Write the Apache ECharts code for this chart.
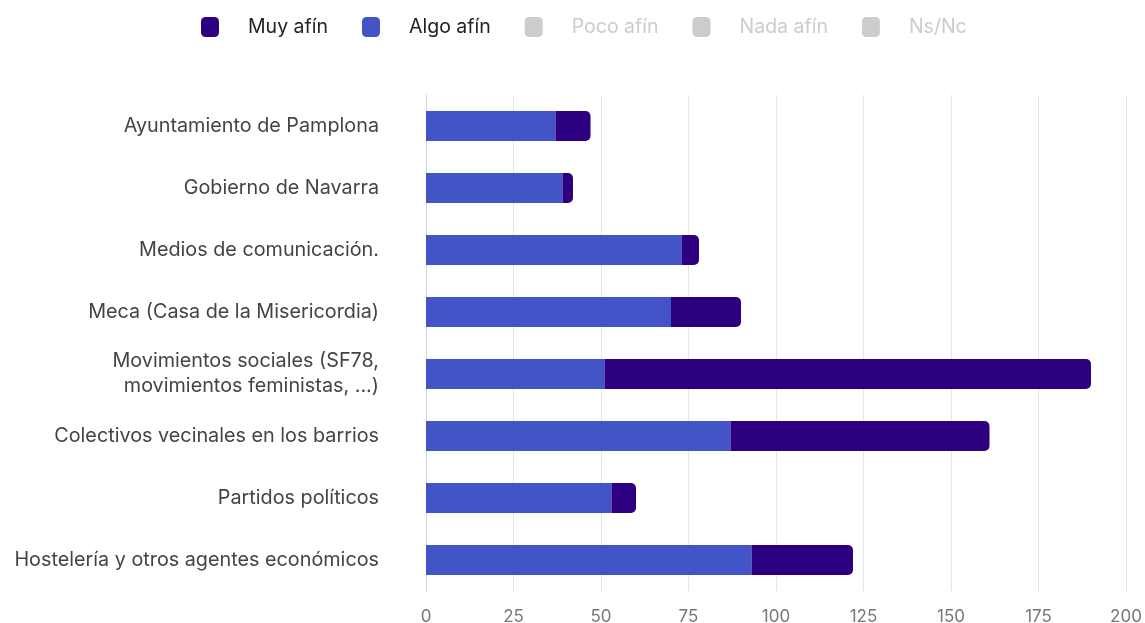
<!DOCTYPE html>
<html><head><meta charset="utf-8">
<script src="https://cdn.jsdelivr.net/npm/echarts@6/dist/echarts.min.js"></script>
<style>html,body{margin:0;padding:0;background:#fff}#c{width:1145px;height:623px}</style>
</head><body><div id="c"></div>
<script>
const categories = [
  "Ayuntamiento de Pamplona",
  "Gobierno de Navarra",
  "Medios de comunicación.",
  "Meca (Casa de la Misericordia)",
  "Movimientos sociales (SF78,\nmovimientos feministas, ...)",
  "Colectivos vecinales en los barrios",
  "Partidos políticos",
  "Hostelería y otros agentes económicos"
];
const algoAfin = [37, 39, 73, 70, 51, 87, 53, 93];
const muyAfin = [10, 3, 5, 20, 139, 74, 7, 29];
const pocoAfin = [20, 25, 40, 30, 8, 12, 50, 30];
const nadaAfin = [10, 15, 20, 12, 3, 4, 30, 10];
const nsNc = [5, 5, 5, 8, 2, 3, 5, 5];
const xTicks = [0, 25, 50, 75, 100, 125, 150, 175, 200];

const FONT = 'Inter';
const chart = echarts.init(document.getElementById('c'), null, {renderer: 'canvas'});
chart.setOption({
  animation: false,
  textStyle: {fontFamily: FONT},
  legend: {
    top: 12,
    left: 196,
    icon: 'roundRect',
    itemWidth: 18,
    itemHeight: 20,
    itemGap: 34,
    textStyle: {fontFamily: FONT, fontSize: 19.5, color: '#222', padding: [0, 0, 0, 24]},
    inactiveColor: '#cccccc',
    data: ['Muy afín', 'Algo afín', 'Poco afín', 'Nada afín', 'Ns/Nc'],
    selected: {'Poco afín': false, 'Nada afín': false, 'Ns/Nc': false}
  },
  grid: {left: 426, right: 19, top: 95, bottom: 32, containLabel: false, outerBoundsMode: 'none'},
  xAxis: {
    type: 'value', min: 0, max: 200, interval: 25,
    axisLine: {show: false}, axisTick: {show: false},
    splitLine: {lineStyle: {color: '#e6e6e6', width: 1}},
    axisLabel: {color: '#777', fontSize: 17, margin: 17, fontFamily: FONT,
      formatter: v => xTicks.includes(v) ? String(v) : ''}
  },
  yAxis: {
    type: 'category', data: categories, inverse: true,
    axisLine: {show: true, lineStyle: {color: '#ccd6eb'}},
    axisTick: {show: false},
    axisLabel: {color: '#444', fontSize: 19.8, margin: 47, fontFamily: FONT, lineHeight: 25, align: 'right'}
  },
  series: [
    {name: 'Algo afín', type: 'bar', stack: 't', data: algoAfin, barWidth: 30,
      itemStyle: {color: '#4355c6'}},
    {name: 'Muy afín', type: 'bar', stack: 't', data: muyAfin, barWidth: 30,
      itemStyle: {color: '#2c0081', borderRadius: [0, 5, 5, 0]}},
    {name: 'Poco afín', type: 'bar', stack: 't', data: pocoAfin, barWidth: 30, itemStyle: {color: '#8a9ae8'}},
    {name: 'Nada afín', type: 'bar', stack: 't', data: nadaAfin, barWidth: 30, itemStyle: {color: '#c4ccf3'}},
    {name: 'Ns/Nc', type: 'bar', stack: 't', data: nsNc, barWidth: 30, itemStyle: {color: '#999999'}}
  ]
});
</script></body></html>
